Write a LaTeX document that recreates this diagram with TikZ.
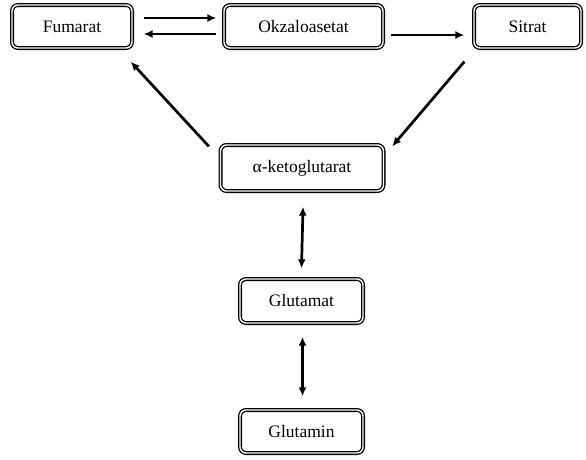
\documentclass[tikz,border=0pt]{standalone}
\usepackage{fontspec}
\setmainfont{Liberation Serif}
\usetikzlibrary{arrows.meta}

\tikzset{
  box/.style={draw=black, double=white, double distance=1.4pt, line width=1.3pt,
    rounded corners=6pt, minimum height=43pt, inner sep=2pt,
    font=\fontsize{17.5}{20}\selectfont},
  arr/.style={line width=2.7pt, -{Latex[length=9pt,width=8pt]}},
  biarr/.style={line width=2.7pt, {Latex[length=9pt,width=8pt]}-{Latex[length=9pt,width=8pt]}}
}

\begin{document}
\begin{tikzpicture}[x=1pt,y=-1pt]

%fixes page size
\useasboundingbox (0,0) rectangle (586,459);

%top row
\node[box, minimum width=120pt] (fum) at (72,26.5) {Fumarat};
\node[box, minimum width=159pt] (okz) at (303.5,26.5) {Okzaloasetat};
\node[box, minimum width=107pt] (sit) at (527.5,26.5) {Sitrat};

%middle and bottom
\node[box, minimum width=163pt, minimum height=46pt] (kg) at (302,168) {α-ketoglutarat};
\node[box, minimum width=123pt, minimum height=44pt] (glu) at (301.5,301) {Glutamat};
\node[box, minimum width=123pt] (gln) at (301.5,431.5) {Glutamin};

%arrows between top boxes
\draw[arr] ([xshift=11pt,yshift=8.5pt]fum.east) -- ([xshift=-7pt,yshift=8.5pt]okz.west);
\draw[arr] ([xshift=-7pt,yshift=-7.5pt]okz.west) -- ([xshift=11pt,yshift=-7.5pt]fum.east);
\draw[arr] ([xshift=7pt,yshift=-8.5pt]okz.east) -- ([xshift=-9pt,yshift=-8.5pt]sit.west);

%cycle arrows
\draw[arr] ([shift={(-9pt,-13pt)}]sit.south west) -- ([shift={(8pt,-2pt)}]kg.north east);
\draw[arr] ([shift={(-11pt,-2pt)}]kg.north west) -- ([shift={(-2pt,-13pt)}]fum.south east);

%two way arrows
\draw[biarr] ([xshift=1pt,yshift=-15pt]kg.south) -- ([yshift=10pt]glu.north);
\draw[biarr] ([xshift=1pt,yshift=-13pt]glu.south) -- ([xshift=1pt,yshift=13pt]gln.north);
\end{tikzpicture}
\end{document}
